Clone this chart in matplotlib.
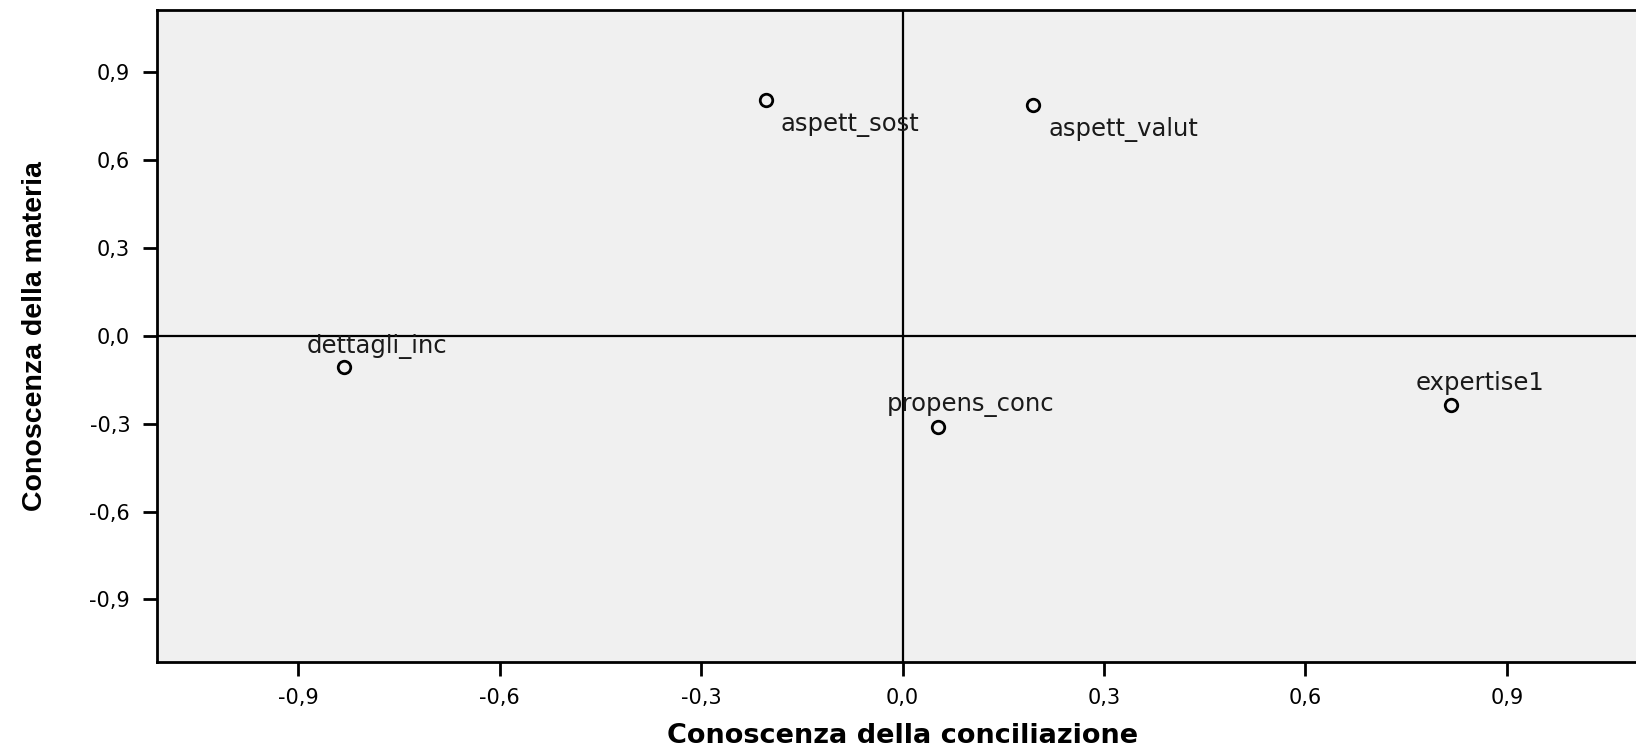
import matplotlib
matplotlib.use("Agg")
import matplotlib.pyplot as plt
from matplotlib import font_manager

labels = ["aspett_sost", "aspett_valut", "dettagli_inc", "propens_conc", "expertise1"]
x_vals = [-0.204, 0.194, -0.832, 0.053, 0.816]
y_vals = [0.807, 0.789, -0.107, -0.311, -0.236]
# label offsets (points) relative to marker and alignment
label_offsets = [(11, -18, "left"), (11, -18, "left"), (24, 15, "center"), (23, 16, "center"), (21, 16, "center")]

tick_vals = [-0.9, -0.6, -0.3, 0.0, 0.3, 0.6, 0.9]
tick_labels = ["-0,9", "-0,6", "-0,3", "0,0", "0,3", "0,6", "0,9"]

x_title = "Conoscenza della conciliazione"
y_title = "Conoscenza della materia"

names = {f.name for f in font_manager.fontManager.ttflist}
narrow = "Liberation Sans Narrow" if "Liberation Sans Narrow" in names else "Liberation Sans"

fig = plt.figure(figsize=(16.36, 7.52), dpi=100)
ax = fig.add_axes([0.0957, 0.1203, 0.912, 0.8659])
ax.set_facecolor("#f0f0f0")

ax.axhline(0, color="black", lw=1.6, zorder=1)
ax.axvline(0, color="black", lw=1.6, zorder=1)

ax.plot(x_vals, y_vals, linestyle="none", marker="o", markersize=9,
        markerfacecolor="none", markeredgecolor="black", markeredgewidth=2.0, zorder=3)

for lab, xv, yv, (dx, dy, ha) in zip(labels, x_vals, y_vals, label_offsets):
    ax.annotate(lab, (xv, yv), xytext=(dx, dy), textcoords="offset points",
                ha=ha, va="center", fontsize=17.5, family="DejaVu Sans", color="#1a1a1a", zorder=4)

ax.set_xlim(-1.111, 1.111)
ax.set_ylim(-1.112, 1.112)
ax.set_xticks(tick_vals)
ax.set_xticklabels(tick_labels, family="DejaVu Sans", fontsize=15)
ax.set_yticks(tick_vals)
ax.set_yticklabels(tick_labels, family="DejaVu Sans", fontsize=15)
ax.tick_params(axis="both", length=10, width=2, color="black", pad=9)

for sp in ax.spines.values():
    sp.set_linewidth(2)
    sp.set_color("black")

ax.set_xlabel(x_title, fontsize=19.5, fontweight="bold", family="DejaVu Sans", va="baseline")
ax.xaxis.set_label_coords(0.5, -0.1255)
ax.set_ylabel(y_title, fontsize=20.5, fontweight="bold", family=narrow)
ax.yaxis.set_label_coords(-0.0727, 0.5)

fig.savefig("out.png", dpi=100, facecolor="white")
